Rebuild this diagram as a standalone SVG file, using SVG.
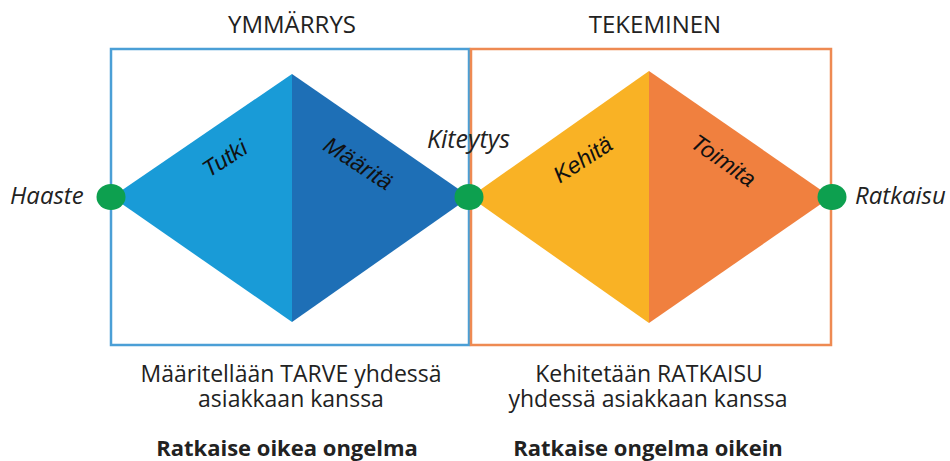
<svg xmlns="http://www.w3.org/2000/svg" width="950" height="461" viewBox="0 0 950 461">
  <style>
    text { font-family: "Open Sans", "Noto Sans", sans-serif; fill: #222; }
    .title { font-size: 24px; text-anchor: middle; }
    .label { font-size: 24px; font-style: italic; }
    .phase { font-family: "Liberation Sans", Arial, sans-serif; font-size: 23px; font-style: italic; text-anchor: middle; fill: #111; }
    .desc { font-size: 23px; text-anchor: middle; }
    .goal { font-size: 22px; font-weight: bold; text-anchor: middle; }
    .dot { fill: #0DA04F; }
  </style>

  <!-- phase frames -->
  <g id="frame-understanding">
    <rect x="111" y="49" width="358" height="296" fill="none" stroke="#4B9FD6" stroke-width="2.5"/>
    <text class="title" x="292" y="33">YMMÄRRYS</text>
  </g>
  <g id="frame-doing">
    <rect x="471" y="49" width="360" height="296" fill="none" stroke="#EE8A52" stroke-width="2.5"/>
    <text class="title" x="655" y="33">TEKEMINEN</text>
  </g>

  <!-- diamonds -->
  <g id="diamond-understanding">
    <polygon points="112,197 292,74 292,322" fill="#199BD7"/>
    <polygon points="292,74 470,197 292,322" fill="#1E6FB6"/>
    <text class="phase" transform="translate(229,165) rotate(-33)">Tutki</text>
    <text class="phase" transform="translate(354,170) rotate(33)">Määritä</text>
  </g>
  <g id="diamond-doing">
    <polygon points="470,197 649,71 649,323" fill="#F9B225"/>
    <polygon points="649,71 831,197 649,323" fill="#F0803F"/>
    <text class="phase" transform="translate(587,166) rotate(-33)">Kehitä</text>
    <text class="phase" transform="translate(719,167) rotate(35)">Toimita</text>
  </g>

  <!-- milestones -->
  <g id="node-haaste">
    <ellipse class="dot" cx="111" cy="197" rx="14.5" ry="13"/>
    <text class="label" x="10" y="204">Haaste</text>
  </g>
  <g id="node-kiteytys">
    <ellipse class="dot" cx="469" cy="197" rx="14.5" ry="13"/>
    <text class="label" x="427" y="148" style="font-size:25px">Kiteytys</text>
  </g>
  <g id="node-ratkaisu">
    <ellipse class="dot" cx="832" cy="197" rx="14.5" ry="13"/>
    <text class="label" x="855" y="204">Ratkaisu</text>
  </g>

  <g id="connectors"></g>

  <!-- captions -->
  <g id="caption-understanding">
    <text class="desc"><tspan x="291" y="382">Määritellään TARVE yhdessä</tspan><tspan x="291" y="407">asiakkaan kanssa</tspan></text>
    <text class="goal" x="287" y="456">Ratkaise oikea ongelma</text>
  </g>
  <g id="caption-doing">
    <text class="desc"><tspan x="649" y="382">Kehitetään RATKAISU</tspan><tspan x="648" y="407">yhdessä asiakkaan kanssa</tspan></text>
    <text class="goal" x="648" y="456">Ratkaise ongelma oikein</text>
  </g>
</svg>
